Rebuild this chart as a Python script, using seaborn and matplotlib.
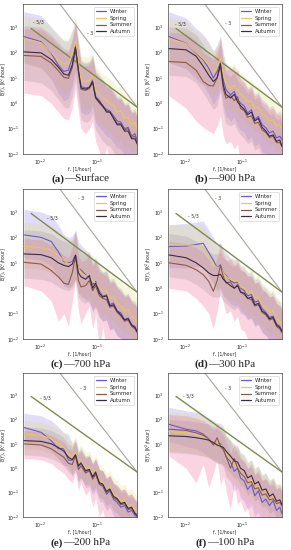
import numpy as np
import pandas as pd
import seaborn as sns
import matplotlib
matplotlib.use("Agg")
import matplotlib.pyplot as plt
from matplotlib.lines import Line2D

# --- Datos (log10 de E(f)) ---
FREQ = [0.0052, 0.0104, 0.0156, 0.0208, 0.026, 0.0313, 0.0365, 0.0417, 0.0469, 0.0521,
        0.0625, 0.0729, 0.0833, 0.0938, 0.1094, 0.125, 0.1458, 0.1667, 0.1927, 0.224,
        0.2604, 0.3021, 0.349, 0.401, 0.4583, 0.5]
SEASONS = ["Winter", "Spring", "Summer", "Autumn"]

# (a) Surface
A_WIN = [2.62, 2.42, 1.97, 1.5, 1.25, 1.3, 1.77, 2.3, 1.45, 0.66,
         0.6, 0.63, 0.92, 0.27, 0.1, -0.1, -0.25, -0.3, -0.5, -0.7,
         -0.75, -1.0, -0.95, -1.3, -1.2, -1.45]
A_SPR = [2.55, 2.38, 2.0, 1.68, 1.55, 1.55, 1.9, 2.45, 1.6, 0.9,
         0.85, 0.9, 1.05, 0.5, 0.35, 0.2, 0.1, 0.0, -0.1, -0.35,
         -0.3, -0.6, -0.55, -0.85, -0.75, -1.0]
A_SUM = [1.88, 1.84, 1.58, 1.28, 1.02, 0.98, 1.4, 2.1, 1.2, 0.55,
         0.5, 0.58, 0.8, 0.2, 0.0, -0.15, -0.3, -0.35, -0.55, -0.8,
         -0.8, -1.05, -1.0, -1.35, -1.3, -1.55]
A_AUT = [2.02, 1.98, 1.72, 1.42, 1.15, 1.1, 1.5, 2.2, 1.3, 0.6,
         0.55, 0.62, 0.85, 0.22, 0.05, -0.1, -0.35, -0.35, -0.6, -0.85,
         -0.85, -1.1, -1.1, -1.4, -1.4, -1.6]
A_WIN_HI = [3.6, 3.45, 3.0, 2.7, 2.45, 2.45, 2.85, 3.25, 2.45, 1.7,
            1.6, 1.65, 1.9, 1.3, 1.1, 0.95, 0.75, 0.7, 0.5, 0.3,
            0.25, 0.0, 0.05, -0.3, -0.2, -0.45]
A_WIN_LO = [1.6, 1.4, 0.95, 0.4, 0.1, 0.2, 0.7, 1.3, 0.4, -0.35,
            -0.45, -0.4, -0.1, -0.75, -0.95, -1.1, -1.3, -1.35, -1.55, -1.75,
            -1.8, -2.05, -2.0, -2.3, -2.2, -2.4]
A_SPR_HI = [3.45, 3.3, 2.95, 2.65, 2.5, 2.55, 2.9, 3.4, 2.55, 1.85,
            1.8, 1.85, 2.0, 1.45, 1.3, 1.15, 1.05, 0.95, 0.85, 0.6,
            0.65, 0.35, 0.4, 0.1, 0.2, -0.05]
A_SPR_LO = [1.55, 1.35, 0.95, 0.6, 0.4, 0.45, 0.85, 1.45, 0.55, -0.15,
            -0.25, -0.2, 0.0, -0.6, -0.75, -0.9, -1.05, -1.15, -1.25, -1.5,
            -1.45, -1.75, -1.7, -2.0, -1.9, -2.1]
A_SUM_HI = [2.95, 2.9, 2.6, 2.3, 2.05, 2.0, 2.45, 3.1, 2.2, 1.5,
            1.45, 1.5, 1.75, 1.15, 0.95, 0.8, 0.65, 0.6, 0.4, 0.15,
            0.15, -0.1, -0.05, -0.4, -0.3, -0.55]
A_SUM_LO = [0.4, 0.3, 0.0, -0.35, -0.6, -0.65, -0.2, 0.6, -0.35, -1.0,
            -1.2, -1.0, -0.7, -1.5, -1.9, -2.4, -1.7, -2.4, -2.0, -2.4,
            -2.1, -2.4, -2.2, -2.4, -2.3, -2.4]
A_AUT_HI = [3.05, 3.0, 2.7, 2.4, 2.15, 2.1, 2.55, 3.15, 2.3, 1.6,
            1.55, 1.6, 1.85, 1.2, 1.05, 0.9, 0.65, 0.65, 0.4, 0.2,
            0.2, -0.05, -0.05, -0.35, -0.35, -0.55]
A_AUT_LO = [0.9, 0.8, 0.5, 0.15, -0.15, -0.2, 0.25, 0.95, 0.05, -0.65,
            -0.75, -0.7, -0.4, -1.05, -1.3, -1.5, -1.65, -1.7, -1.9, -2.1,
            -2.1, -2.35, -2.3, -2.4, -2.4, -2.4]

# (b) 900 hPa
B_WIN = [2.62, 2.36, 1.97, 1.7, 1.38, 0.99, 1.25, 1.64, 0.92, 0.53,
         0.33, 0.46, 0.14, 0.0, -0.12, -0.39, -0.26, -0.65, -0.52, -0.84,
         -0.97, -1.17, -1.1, -1.37, -1.3, -1.43]
B_SPR = [2.55, 2.35, 2.0, 1.75, 1.5, 1.2, 1.4, 1.75, 1.1, 0.75,
         0.6, 0.7, 0.5, 0.35, 0.25, 0.05, 0.1, -0.2, -0.15, -0.4,
         -0.5, -0.7, -0.65, -0.9, -0.85, -1.0]
B_SUM = [1.64, 1.6, 1.3, 0.85, 0.7, 0.68, 1.0, 1.45, 0.55, 0.2,
         0.3, 0.1, 0.25, -0.2, -0.3, -0.55, -0.5, -0.8, -0.75, -1.05,
         -1.15, -1.35, -1.3, -1.55, -1.55, -1.7]
B_AUT = [2.15, 2.1, 1.85, 1.45, 1.1, 0.85, 1.0, 1.55, 0.7, 0.35,
         0.2, 0.35, 0.05, -0.1, -0.25, -0.45, -0.35, -0.7, -0.6, -0.95,
         -1.1, -1.3, -1.25, -1.5, -1.45, -1.7]
B_WIN_HI = [3.6, 3.35, 2.95, 2.7, 2.4, 2.05, 2.3, 2.65, 1.95, 1.55,
            1.35, 1.45, 1.15, 1.0, 0.85, 0.6, 0.7, 0.35, 0.45, 0.15,
            0.05, -0.15, -0.1, -0.4, -0.3, -0.45]
B_WIN_LO = [1.6, 1.35, 0.95, 0.7, 0.35, -0.05, 0.2, 0.6, -0.1, -0.5,
            -0.7, -0.55, -0.9, -1.05, -1.15, -1.45, -1.3, -1.7, -1.55, -1.9,
            -2.0, -2.2, -2.15, -2.4, -2.3, -2.4]
B_SPR_HI = [3.4, 3.2, 2.85, 2.6, 2.35, 2.05, 2.25, 2.6, 1.95, 1.6,
            1.45, 1.55, 1.35, 1.2, 1.1, 0.9, 0.95, 0.65, 0.7, 0.45,
            0.35, 0.15, 0.2, -0.05, 0.0, -0.15]
B_SPR_LO = [1.6, 1.4, 1.05, 0.8, 0.55, 0.25, 0.45, 0.8, 0.15, -0.2,
            -0.35, -0.25, -0.45, -0.6, -0.7, -0.9, -0.85, -1.15, -1.1, -1.35,
            -1.45, -1.65, -1.6, -1.85, -1.8, -1.95]
B_SUM_HI = [2.8, 2.75, 2.45, 2.0, 1.85, 1.8, 2.1, 2.55, 1.65, 1.3,
            1.4, 1.2, 1.3, 0.9, 0.8, 0.55, 0.6, 0.3, 0.35, 0.05,
            -0.05, -0.25, -0.2, -0.45, -0.45, -0.6]
B_SUM_LO = [0.3, -0.2, -0.7, -0.95, -1.1, -1.2, -0.9, -0.5, -1.3, -1.6,
            -1.5, -1.8, -1.6, -2.4, -2.1, -2.4, -2.1, -2.4, -2.3, -2.4,
            -2.4, -2.4, -2.4, -2.4, -2.4, -2.4]
B_AUT_HI = [3.0, 2.95, 2.7, 2.3, 1.95, 1.7, 1.85, 2.4, 1.55, 1.2,
            1.05, 1.2, 0.9, 0.75, 0.6, 0.4, 0.5, 0.15, 0.25, -0.1,
            -0.25, -0.45, -0.4, -0.65, -0.6, -0.85]
B_AUT_LO = [1.1, 1.05, 0.8, 0.4, 0.05, -0.25, -0.1, 0.5, -0.4, -0.8,
            -0.9, -0.8, -1.1, -1.25, -1.4, -1.6, -1.5, -1.85, -1.75, -2.1,
            -2.25, -2.4, -2.4, -2.4, -2.4, -2.4]

# (c) 700 hPa
C_WIN = [2.1, 2.0, 1.84, 1.44, 1.05, 0.99, 1.05, 1.31, 0.79, 0.72,
         0.53, 0.4, 0.14, 0.27, -0.12, -0.32, -0.26, -0.65, -0.58, -0.9,
         -0.97, -1.24, -1.17, -1.43, -1.5, -1.7]
C_SPR = [1.65, 1.6, 1.5, 1.3, 1.1, 0.95, 1.0, 1.25, 0.8, 0.6,
         0.5, 0.45, 0.3, 0.2, 0.05, -0.15, -0.1, -0.4, -0.35, -0.6,
         -0.7, -0.9, -0.85, -1.1, -1.2, -1.35]
C_SUM = [1.02, 0.95, 0.7, 0.45, 0.2, 0.15, 0.6, 1.25, 0.3, 0.05,
         0.1, 0.3, -0.1, 0.1, -0.3, -0.4, -0.45, -0.75, -0.7, -0.95,
         -1.1, -1.3, -1.25, -1.5, -1.6, -1.75]
C_AUT = [1.35, 1.32, 1.2, 1.0, 0.9, 0.85, 0.95, 1.3, 0.6, 0.45,
         0.35, 0.5, 0.0, 0.2, -0.2, -0.35, -0.3, -0.7, -0.65, -0.9,
         -1.05, -1.25, -1.2, -1.45, -1.55, -1.7]
C_WIN_HI = [3.1, 3.0, 2.85, 2.5, 2.1, 2.0, 2.05, 2.3, 1.8, 1.7,
            1.5, 1.35, 1.1, 1.2, 0.85, 0.65, 0.7, 0.35, 0.4, 0.1,
            0.0, -0.25, -0.2, -0.45, -0.5, -0.7]
C_WIN_LO = [1.2, 1.1, 0.9, 0.5, 0.1, 0.0, 0.1, 0.4, -0.2, -0.3,
            -0.45, -0.6, -0.85, -0.7, -1.1, -1.3, -1.25, -1.65, -1.55, -1.9,
            -1.95, -2.2, -2.15, -2.4, -2.4, -2.4]
C_SPR_HI = [2.6, 2.55, 2.45, 2.25, 2.05, 1.9, 1.95, 2.2, 1.75, 1.55,
            1.45, 1.4, 1.25, 1.15, 1.0, 0.8, 0.85, 0.55, 0.6, 0.35,
            0.25, 0.05, 0.1, -0.15, -0.25, -0.4]
C_SPR_LO = [0.8, 0.75, 0.6, 0.4, 0.2, 0.05, 0.1, 0.35, -0.1, -0.3,
            -0.4, -0.45, -0.6, -0.7, -0.85, -1.05, -1.0, -1.3, -1.25, -1.5,
            -1.6, -1.8, -1.75, -2.0, -2.1, -2.25]
C_SUM_HI = [1.95, 1.9, 1.7, 1.5, 1.3, 1.2, 1.6, 2.2, 1.3, 1.05,
            1.1, 1.3, 0.9, 1.05, 0.65, 0.55, 0.5, 0.2, 0.25, 0.0,
            -0.15, -0.35, -0.3, -0.55, -0.65, -0.8]
C_SUM_LO = [0.1, -0.1, -0.5, -1.3, -1.0, -1.5, -0.5, 0.3, -0.9, -1.4,
            -1.0, -0.7, -1.6, -1.0, -2.4, -1.5, -2.4, -2.0, -2.4, -2.2,
            -2.4, -2.4, -2.4, -2.4, -2.4, -2.4]
C_AUT_HI = [2.3, 2.25, 2.15, 1.95, 1.85, 1.8, 1.9, 2.25, 1.55, 1.4,
            1.3, 1.45, 0.95, 1.15, 0.75, 0.6, 0.65, 0.25, 0.3, 0.05,
            -0.1, -0.3, -0.25, -0.5, -0.6, -0.75]
C_AUT_LO = [0.4, 0.35, 0.25, 0.05, -0.05, -0.1, 0.0, 0.35, -0.35, -0.5,
            -0.6, -0.45, -0.95, -0.75, -1.15, -1.3, -1.25, -1.65, -1.6, -1.85,
            -2.0, -2.2, -2.15, -2.4, -2.4, -2.4]

# (d) 300 hPa
D_WIN = [1.64, 1.66, 1.72, 1.77, 1.4, 1.1, 0.8, 0.92, 0.6, 0.5,
         0.3, 0.2, 0.25, 0.0, -0.1, -0.3, -0.25, -0.55, -0.5, -0.8,
         -0.95, -1.15, -1.1, -1.4, -1.5, -1.7]
D_SPR = [1.7, 1.7, 1.68, 1.6, 1.25, 0.95, 0.8, 0.85, 0.6, 0.45,
         0.35, 0.3, 0.3, 0.05, 0.0, -0.2, -0.1, -0.4, -0.35, -0.65,
         -0.75, -0.95, -0.9, -1.2, -1.3, -1.45]
D_SUM = [1.0, 0.9, 0.73, 0.53, 0.27, -0.12, 0.3, 0.9, 0.45, 0.2,
         0.25, 0.0, 0.15, -0.15, -0.25, -0.4, -0.45, -0.7, -0.65, -0.95,
         -1.05, -1.25, -1.2, -1.5, -1.6, -1.75]
D_AUT = [1.31, 1.2, 1.0, 0.8, 0.6, 0.5, 0.5, 0.55, 0.35, 0.25,
         0.1, 0.0, 0.1, -0.15, -0.2, -0.4, -0.35, -0.65, -0.6, -0.9,
         -1.0, -1.2, -1.15, -1.45, -1.55, -1.7]
D_WIN_HI = [2.5, 2.55, 2.6, 2.65, 2.3, 2.0, 1.7, 1.8, 1.5, 1.4,
            1.2, 1.1, 1.15, 0.9, 0.8, 0.6, 0.65, 0.35, 0.4, 0.1,
            0.0, -0.2, -0.15, -0.45, -0.55, -0.75]
D_WIN_LO = [0.8, 0.8, 0.85, 0.9, 0.5, 0.2, -0.1, 0.0, -0.3, -0.4,
            -0.6, -0.7, -0.65, -0.9, -1.0, -1.2, -1.15, -1.45, -1.4, -1.7,
            -1.85, -2.05, -2.0, -2.3, -2.4, -2.4]
D_SPR_HI = [2.5, 2.5, 2.5, 2.45, 2.1, 1.8, 1.65, 1.7, 1.45, 1.3,
            1.2, 1.15, 1.15, 0.9, 0.85, 0.65, 0.75, 0.45, 0.5, 0.2,
            0.1, -0.1, -0.05, -0.35, -0.45, -0.6]
D_SPR_LO = [0.9, 0.9, 0.85, 0.8, 0.45, 0.15, 0.0, 0.05, -0.2, -0.35,
            -0.45, -0.5, -0.5, -0.75, -0.8, -1.0, -0.95, -1.25, -1.2, -1.5,
            -1.6, -1.8, -1.75, -2.05, -2.15, -2.3]
D_SUM_HI = [1.85, 1.75, 1.6, 1.4, 1.15, 0.8, 1.2, 1.8, 1.35, 1.1,
            1.15, 0.9, 1.05, 0.75, 0.65, 0.5, 0.45, 0.2, 0.25, -0.05,
            -0.15, -0.35, -0.3, -0.6, -0.7, -0.85]
D_SUM_LO = [0.0, -0.1, -0.4, -0.7, -1.0, -1.6, -0.9, -0.1, -0.6, -1.0,
            -0.9, -1.3, -1.1, -1.6, -1.7, -2.0, -2.4, -2.1, -2.4, -2.3,
            -2.4, -2.4, -2.4, -2.4, -2.4, -2.4]
D_AUT_HI = [2.15, 2.05, 1.85, 1.65, 1.45, 1.35, 1.35, 1.4, 1.2, 1.1,
            0.95, 0.85, 0.95, 0.7, 0.65, 0.45, 0.5, 0.2, 0.25, -0.05,
            -0.15, -0.35, -0.3, -0.6, -0.7, -0.85]
D_AUT_LO = [0.45, 0.35, 0.15, -0.05, -0.25, -0.35, -0.35, -0.3, -0.5, -0.6,
            -0.75, -0.85, -0.75, -1.0, -1.05, -1.25, -1.2, -1.5, -1.45, -1.75,
            -1.85, -2.05, -2.0, -2.3, -2.4, -2.4]

# (e) 200 hPa
E_WIN = [1.67, 1.47, 1.13, 0.8, 0.8, 0.33, 0.33, 0.6, 0.07, 0.27,
         -0.13, -0.07, -0.4, -0.2, -0.67, -0.73, -1.07, -0.93, -1.27, -1.4,
         -1.6, -1.53, -1.8, -1.73, -1.93, -2.0]
E_SPR = [1.4, 1.35, 1.2, 1.0, 0.85, 0.55, 0.45, 0.65, 0.2, 0.3,
         0.0, 0.05, -0.25, -0.1, -0.5, -0.6, -0.85, -0.75, -1.05, -1.15,
         -1.35, -1.3, -1.55, -1.5, -1.7, -1.8]
E_SUM = [1.0, 0.95, 0.8, 0.6, 0.45, 0.2, 0.15, 0.5, -0.05, 0.1,
         -0.2, -0.1, -0.45, -0.25, -0.65, -0.7, -1.0, -0.9, -1.2, -1.3,
         -1.5, -1.45, -1.7, -1.65, -1.85, -1.9]
E_AUT = [1.13, 1.1, 1.0, 0.85, 0.7, 0.45, 0.35, 0.55, 0.1, 0.2,
         -0.1, -0.05, -0.35, -0.15, -0.6, -0.65, -0.95, -0.85, -1.15, -1.25,
         -1.45, -1.4, -1.65, -1.6, -1.85, -1.95]
E_WIN_HI = [2.25, 2.15, 1.95, 1.7, 1.45, 1.4, 1.0, 1.2, 0.7, 0.85,
            0.5, 0.55, 0.2, 0.4, -0.05, -0.1, -0.45, -0.3, -0.65, -0.8,
            -1.0, -0.95, -1.2, -1.15, -1.35, -1.4]
E_WIN_LO = [1.1, 0.95, 0.7, 0.4, 0.1, 0.1, -0.35, -0.05, -0.6, -0.4,
            -0.8, -0.75, -1.1, -0.9, -1.35, -1.4, -1.75, -1.6, -1.95, -2.1,
            -2.3, -2.2, -2.4, -2.4, -2.4, -2.4]
E_SPR_HI = [1.95, 1.9, 1.75, 1.6, 1.45, 1.2, 1.1, 1.3, 0.85, 0.95,
            0.65, 0.7, 0.4, 0.55, 0.15, 0.05, -0.2, -0.1, -0.4, -0.5,
            -0.7, -0.65, -0.9, -0.85, -1.05, -1.15]
E_SPR_LO = [0.8, 0.75, 0.6, 0.4, 0.2, -0.05, -0.15, 0.05, -0.45, -0.35,
            -0.65, -0.6, -0.9, -0.75, -1.15, -1.25, -1.5, -1.4, -1.7, -1.8,
            -2.0, -1.95, -2.2, -2.15, -2.35, -2.4]
E_SUM_HI = [1.55, 1.5, 1.35, 1.2, 1.05, 0.8, 0.75, 1.1, 0.55, 0.7,
            0.4, 0.5, 0.15, 0.35, -0.05, -0.1, -0.4, -0.3, -0.6, -0.7,
            -0.9, -0.85, -1.1, -1.05, -1.25, -1.3]
E_SUM_LO = [0.4, 0.35, 0.2, -0.05, -0.2, -0.45, -0.6, -0.2, -0.9, -0.6,
            -1.1, -0.9, -1.6, -1.2, -2.0, -1.7, -2.4, -2.1, -2.4, -2.4,
            -2.4, -2.4, -2.4, -2.4, -2.4, -2.4]
E_AUT_HI = [1.7, 1.65, 1.55, 1.4, 1.25, 1.0, 0.9, 1.1, 0.65, 0.75,
            0.45, 0.5, 0.2, 0.4, -0.05, -0.1, -0.4, -0.3, -0.6, -0.7,
            -0.9, -0.85, -1.1, -1.05, -1.3, -1.4]
E_AUT_LO = [0.55, 0.5, 0.4, 0.25, 0.1, -0.15, -0.25, -0.05, -0.5, -0.4,
            -0.7, -0.65, -0.95, -0.8, -1.2, -1.25, -1.55, -1.45, -1.75, -1.85,
            -2.05, -2.0, -2.25, -2.2, -2.4, -2.4]

# (f) 100 hPa
F_WIN = [1.8, 1.6, 1.53, 1.4, 1.2, 1.07, 1.0, 1.0, 0.87, 0.47,
         0.27, -0.13, 0.0, -0.4, -0.53, -0.87, -0.67, -1.13, -0.93, -1.4,
         -1.27, -1.53, -1.33, -1.73, -1.6, -1.87]
F_SPR = [1.5, 1.45, 1.4, 1.3, 1.2, 1.1, 1.0, 0.95, 0.9, 0.6,
         0.35, 0.15, 0.1, -0.2, -0.3, -0.6, -0.45, -0.85, -0.7, -1.1,
         -1.0, -1.3, -1.15, -1.45, -1.35, -1.6]
F_SUM = [1.6, 1.55, 1.45, 1.35, 1.2, 0.95, 1.25, 0.9, 0.75, 0.5,
         0.0, 0.4, 0.0, -0.2, -0.35, -0.6, -0.55, -0.85, -0.8, -1.1,
         -1.05, -1.3, -1.25, -1.45, -1.4, -1.55]
F_AUT = [1.33, 1.3, 1.25, 1.2, 1.15, 1.05, 0.95, 0.9, 0.85, 0.7,
         0.5, 0.3, 0.25, 0.0, -0.1, -0.4, -0.3, -0.65, -0.55, -0.9,
         -0.85, -1.15, -1.05, -1.35, -1.3, -1.5]
F_WIN_HI = [2.5, 2.35, 2.3, 2.2, 2.05, 1.95, 1.85, 1.85, 1.7, 1.3,
            1.1, 0.7, 0.85, 0.45, 0.3, 0.0, 0.2, -0.25, -0.05, -0.5,
            -0.4, -0.65, -0.45, -0.85, -0.75, -1.0]
F_WIN_LO = [1.1, 0.9, 0.8, 0.65, 0.45, 0.3, 0.2, 0.2, 0.05, -0.35,
            -0.55, -0.95, -0.8, -1.2, -1.35, -1.7, -1.5, -1.95, -1.8, -2.25,
            -2.1, -2.4, -2.2, -2.4, -2.4, -2.4]
F_SPR_HI = [2.3, 2.25, 2.2, 2.1, 2.0, 1.9, 1.8, 1.75, 1.7, 1.4,
            1.15, 0.95, 0.9, 0.6, 0.5, 0.2, 0.35, -0.05, 0.1, -0.3,
            -0.2, -0.5, -0.35, -0.65, -0.55, -0.8]
F_SPR_LO = [0.7, 0.65, 0.6, 0.5, 0.4, 0.3, 0.2, 0.15, 0.1, -0.2,
            -0.45, -0.65, -0.7, -1.0, -1.1, -1.4, -1.25, -1.65, -1.5, -1.9,
            -1.8, -2.1, -1.95, -2.25, -2.15, -2.4]
F_SUM_HI = [2.2, 2.15, 2.05, 1.95, 1.8, 1.55, 1.85, 1.5, 1.35, 1.1,
            0.6, 1.0, 0.6, 0.4, 0.25, 0.0, 0.05, -0.25, -0.2, -0.5,
            -0.45, -0.7, -0.65, -0.85, -0.8, -0.95]
F_SUM_LO = [0.5, 0.0, -0.6, 0.2, -0.8, -0.2, 0.4, -0.7, -0.3, -0.9,
            -1.7, -0.6, -1.5, -1.3, -1.8, -1.6, -2.4, -2.0, -2.4, -2.2,
            -2.4, -2.4, -2.4, -2.4, -2.4, -2.4]
F_AUT_HI = [2.0, 1.95, 1.9, 1.85, 1.8, 1.7, 1.6, 1.55, 1.5, 1.35,
            1.15, 0.95, 0.9, 0.65, 0.55, 0.25, 0.35, 0.0, 0.1, -0.25,
            -0.2, -0.5, -0.4, -0.7, -0.65, -0.85]
F_AUT_LO = [0.65, 0.6, 0.55, 0.5, 0.45, 0.35, 0.25, 0.2, 0.15, 0.0,
            -0.2, -0.4, -0.45, -0.7, -0.8, -1.1, -1.0, -1.35, -1.25, -1.6,
            -1.55, -1.85, -1.75, -2.05, -2.0, -2.2]

# Rectas de referencia (pendientes -5/3 y -3)
REF53_X = [0.00694, 0.5]
REF53_Y = [874.0, 0.7]
REF3_X = [0.02, 0.5]
REF3_Y = [10937.0, 0.7]

TAGS = ["(a)", "(b)", "(c)", "(d)", "(e)", "(f)"]
NAMES = ["\u2014Surface", "\u2014900 hPa", "\u2014700 hPa", "\u2014300 hPa", "\u2014200 hPa", "\u2014100 hPa"]
NOTE53_XY = [(0.0075, 1580), (0.0067, 1320), (0.0132, 575), (0.0112, 690), (0.0100, 740), (0.0092, 910)]
NOTE3_XY = [(0.066, 575), (0.050, 1400), (0.046, 3550), (0.033, 3550), (0.050, 1860), (0.050, 1860)]

LINE_COLORS = {"Winter": "#6a58d2", "Spring": "#e8c85a", "Summer": "#8c5a48", "Autumn": "#3c2a42"}
BAND_COLORS = {"Winter": "#8878e8", "Spring": "#e2dc70", "Summer": "#f27aa0", "Autumn": "#9a8a98"}
BAND_ALPHA = {"Winter": 0.26, "Spring": 0.26, "Summer": 0.32, "Autumn": 0.24}

PANELS = [
    ([A_WIN, A_SPR, A_SUM, A_AUT], [A_WIN_HI, A_SPR_HI, A_SUM_HI, A_AUT_HI], [A_WIN_LO, A_SPR_LO, A_SUM_LO, A_AUT_LO]),
    ([B_WIN, B_SPR, B_SUM, B_AUT], [B_WIN_HI, B_SPR_HI, B_SUM_HI, B_AUT_HI], [B_WIN_LO, B_SPR_LO, B_SUM_LO, B_AUT_LO]),
    ([C_WIN, C_SPR, C_SUM, C_AUT], [C_WIN_HI, C_SPR_HI, C_SUM_HI, C_AUT_HI], [C_WIN_LO, C_SPR_LO, C_SUM_LO, C_AUT_LO]),
    ([D_WIN, D_SPR, D_SUM, D_AUT], [D_WIN_HI, D_SPR_HI, D_SUM_HI, D_AUT_HI], [D_WIN_LO, D_SPR_LO, D_SUM_LO, D_AUT_LO]),
    ([E_WIN, E_SPR, E_SUM, E_AUT], [E_WIN_HI, E_SPR_HI, E_SUM_HI, E_AUT_HI], [E_WIN_LO, E_SPR_LO, E_SUM_LO, E_AUT_LO]),
    ([F_WIN, F_SPR, F_SUM, F_AUT], [F_WIN_HI, F_SPR_HI, F_SUM_HI, F_AUT_HI], [F_WIN_LO, F_SPR_LO, F_SUM_LO, F_AUT_LO]),
]

# --- Posiciones de los paneles (fracción de figura) ---
COL_X = [0.079, 0.577]
ROW_Y = [(0.720, 0.2727), (0.3836, 0.2727), (0.060, 0.2618)]
CAP_Y = [0.675, 0.338, 0.013]
W = 0.392


def draw_panel(ax, i):
    means, his, los = PANELS[i]
    ax.set_xscale("log")
    ax.set_yscale("log")
    for s, hi, lo in zip(SEASONS, his, los):
        ax.fill_between(FREQ, 10 ** np.array(lo), 10 ** np.array(hi),
                        color=BAND_COLORS[s], alpha=BAND_ALPHA[s], lw=0, zorder=1)
    ax.plot(REF3_X, REF3_Y, color="#aaa59c", lw=0.8, zorder=2)
    ax.plot(REF53_X, REF53_Y, color="#7e8c4e", lw=1.0, zorder=2)

    df = pd.concat([pd.DataFrame({"f": FREQ, "E": 10 ** np.array(m), "season": s})
                    for s, m in zip(SEASONS, means)], ignore_index=True)
    sns.lineplot(data=df, x="f", y="E", hue="season", hue_order=SEASONS,
                 palette=LINE_COLORS, estimator=None, sort=False,
                 linewidth=0.8, legend=False, ax=ax, zorder=3)

    ax.text(*NOTE53_XY[i], "- 5/3", fontsize=3.4, color="#333333", va="center")
    ax.text(*NOTE3_XY[i], "- 3", fontsize=3.4, color="#333333", va="center")

    ax.set_xlim(0.005, 0.5)
    ax.set_ylim(1e-2, 8e3)
    ax.set_xlabel("f, [1/hour]", fontsize=3.3)
    ax.set_ylabel("E(f), [K$^2$/hour]", fontsize=3.3)
    ax.xaxis.set_label_coords(0.5, -0.085)
    ax.yaxis.set_label_coords(-0.12, 0.5)
    ax.tick_params(which="major", labelsize=3.3, length=1.8, width=0.4, pad=1.0)
    ax.tick_params(which="minor", length=1, width=0.3)
    for sp in ax.spines.values():
        sp.set_linewidth(0.5)
        sp.set_color("#444444")

    handles = [Line2D([], [], color=LINE_COLORS[s], lw=0.9) for s in SEASONS]
    leg = ax.legend(handles, SEASONS, loc="upper right", fontsize=3.8,
                    handlelength=2.0, borderpad=0.4, labelspacing=0.35,
                    handletextpad=0.6, framealpha=1, fancybox=True)
    leg.get_frame().set_linewidth(0.4)
    leg.get_frame().set_edgecolor("#cccccc")


sns.set_style("white")
fig = plt.figure(figsize=(2.91, 5.5), dpi=100)

for i in range(6):
    row, col = divmod(i, 2)
    y0, h = ROW_Y[row]
    ax = fig.add_axes([COL_X[col], y0, W, h])
    draw_panel(ax, i)

# Pies de figura: "(a)" en negrita + resto normal, centrados
renderer = fig.canvas.get_renderer()
fig_w = fig.bbox.width
for i in range(6):
    row, col = divmod(i, 2)
    xc = (COL_X[col] + W / 2) * fig_w
    t1 = fig.text(0, CAP_Y[row], TAGS[i], fontsize=8, fontweight="bold",
                  family="Liberation Serif", va="center")
    t2 = fig.text(0, CAP_Y[row], NAMES[i], fontsize=8,
                  family="Liberation Serif", va="center")
    w1 = t1.get_window_extent(renderer).width
    w2 = t2.get_window_extent(renderer).width
    left = xc - (w1 + w2) / 2
    t1.set_x(left / fig_w)
    t2.set_x((left + w1) / fig_w)

fig.savefig("out.png", dpi=100)
